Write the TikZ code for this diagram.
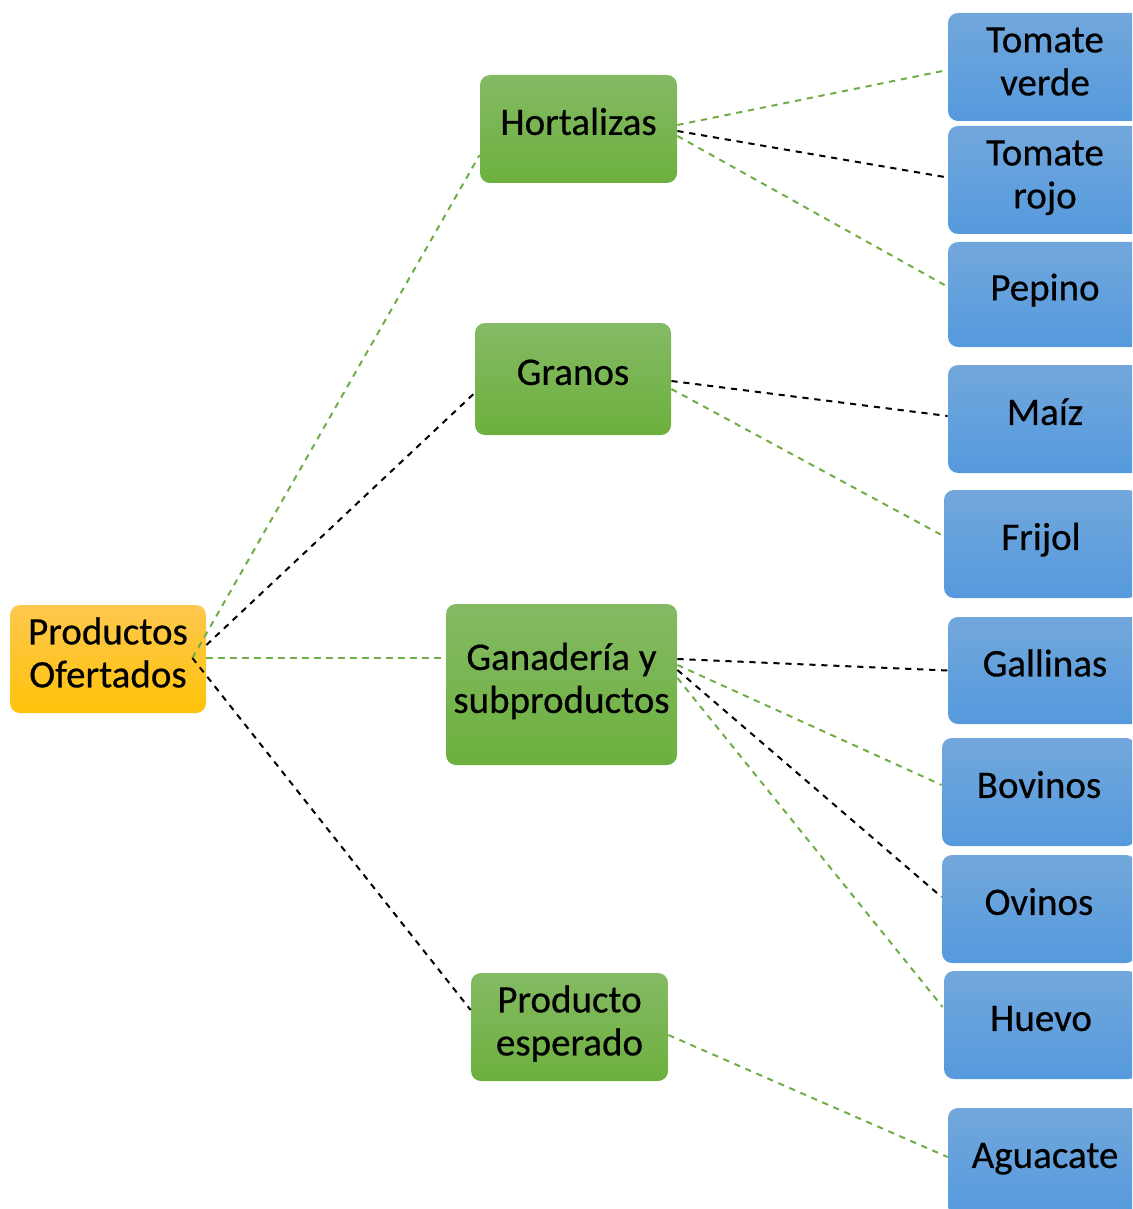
\documentclass[tikz,border=0pt]{standalone}
\usepackage{fontspec}
\setmainfont{Carlito}
\newfontfamily\boxfont{Carlito}[FakeBold=0.5]
\usetikzlibrary{calc}
\definecolor{orT}{HTML}{FEC84E}
\definecolor{orB}{HTML}{FFC20A}
\definecolor{grT}{HTML}{84BA64}
\definecolor{grB}{HTML}{6DB03E}
\definecolor{blT}{HTML}{72A7DC}
\definecolor{blB}{HTML}{559ADD}
\definecolor{lnG}{HTML}{70AD47}
\begin{document}
\begin{tikzpicture}[x=0.5pt,y=-0.5pt,
 box/.style={rounded corners=5pt, minimum height=54pt, inner sep=0pt, align=center, font=\boxfont\fontsize{19.5}{21.5}\selectfont, text=black, text height=34.3pt, text depth=5.9pt},
 one/.style={text height=12.6pt, text depth=6.7pt},
 orbox/.style={box, top color=orT, bottom color=orB},
 grbox/.style={box, top color=grT, bottom color=grB},
 blbox/.style={box, top color=blT, bottom color=blB, minimum width=97pt},
 gl/.style={draw=lnG, line width=1pt, dash pattern=on 3.1pt off 2.9pt},
 bl/.style={draw=black, line width=1pt, dash pattern=on 3.1pt off 2.9pt},
]
\useasboundingbox (0,0) rectangle (1132,1209);
\clip (0,0) rectangle (1132,1209);
% parents
\node[orbox, minimum width=98pt] (po) at (108,659) {Productos\\Ofertados};
\node[grbox, one, minimum width=98.5pt] (hort) at (578.5,129) {Hortalizas};
\node[grbox, one, minimum width=98pt, minimum height=56pt] (gra) at (573,379) {Granos};
\node[grbox, minimum width=115.5pt, minimum height=80.5pt] (gan) at (561.5,684.5) {Ganadería y\\subproductos};
\node[grbox, minimum width=98.5pt] (pe) at (569.5,1027) {Producto\\esperado};
% children
\node[blbox] (tv) at (1045,67) {Tomate\\verde};
\node[blbox] (tr) at (1045,180) {Tomate\\rojo};
\node[blbox, one, minimum height=52.5pt] (pep) at (1045,294.5) {Pepino};
\node[blbox, one] (mai) at (1045,419) {Maíz};
\node[blbox, one] (fri) at (1041,544) {Frijol};
\node[blbox, one, minimum height=53.5pt] (gal) at (1045,670.5) {Gallinas};
\node[blbox, one] (bov) at (1039,792) {Bovinos};
\node[blbox, one] (ovi) at (1039,909) {Ovinos};
\node[blbox, one] (hue) at (1041,1025) {Huevo};
\node[blbox, one] (agu) at (1045,1162) {Aguacate};
% connectors from Productos Ofertados
\coordinate (o) at ($(po.east)+(-14,-1)$);
\draw[gl] (o) -- ($(hort.west)+(0,26)$);
\draw[bl] ($(po.east)+(0,-14)$) -- ($(gra.west)+(0,14)$);
\draw[gl] ($(po.east)+(0,-1)$) -- ($(gan.west)+(0,-26.5)$);
\draw[bl] (o) -- ($(pe.west)+(0,-17)$);
% Hortalizas
\draw[gl] ($(hort.east)+(0,-4)$) -- ($(tv.west)+(0,3)$);
\draw[bl] ($(hort.east)+(0,2)$) -- ($(tr.west)+(-3,-3)$);
\draw[gl] ($(hort.east)+(0,7)$) -- ($(pep.west)+(-3,-9.5)$);
% Granos
\draw[bl] ($(gra.east)+(0,2)$) -- ($(mai.west)+(0,-3)$);
\draw[gl] ($(gra.east)+(0,10)$) -- ($(fri.west)+(-2,-9)$);
% Ganaderia
\draw[bl] ($(gan.east)+(0,-25.5)$) -- ($(gal.west)+(0,0)$);
\draw[gl] ($(gan.east)+(0,-19.5)$) -- ($(bov.west)+(0,-7)$);
\draw[bl] ($(gan.east)+(0,-14.5)$) -- ($(ovi.west)+(0,-12)$);
\draw[gl] ($(gan.east)+(0,-6.5)$) -- ($(hue.west)+(-1,-18)$);
% Producto esperado
\draw[gl] ($(pe.east)+(0,8)$) -- ($(agu.west)+(0,-5)$);
\end{tikzpicture}
\end{document}
